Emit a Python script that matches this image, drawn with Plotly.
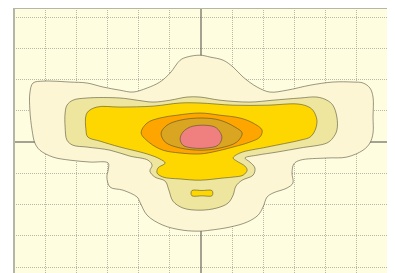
import plotly.graph_objects as go

# Contour levels (outer -> inner), boundaries (data units)
level1_x = [-0.03, 0.29, 0.71, 1.03, 1.35, 1.80, 2.21, 2.76, 3.50, 4.23, 4.88, 5.20, 5.42, 5.52, 5.52, 5.52, 5.42, 5.20, 4.68, 4.04, 3.18, 2.98, 2.92, 2.95, 2.76, 2.31, 2.12, 1.99, 1.83, 1.48, 0.93, 0.29, -0.03, -0.58, -1.22, -1.73, -1.96, -2.05, -2.50, -2.92, -3.02, -2.98, -2.98, -3.56, -4.20, -4.75, -5.17, -5.33, -5.42, -5.49, -5.49, -5.39, -5.07, -4.75, -4.20, -3.66, -3.14, -2.60, -2.18, -1.73, -1.32, -0.99, -0.67, -0.45, -0.03]
level1_y = [2.78, 2.72, 2.62, 2.40, 2.08, 1.76, 1.60, 1.66, 1.82, 1.92, 1.92, 1.89, 1.73, 1.44, 0.80, 0.29, -0.03, -0.26, -0.48, -0.51, -0.58, -0.70, -0.99, -1.31, -1.47, -1.63, -1.76, -2.08, -2.34, -2.56, -2.72, -2.82, -2.85, -2.82, -2.66, -2.34, -1.92, -1.76, -1.54, -1.44, -1.12, -0.90, -0.67, -0.64, -0.58, -0.48, -0.26, -0.03, 0.38, 1.02, 1.57, 1.89, 1.95, 1.95, 1.92, 1.89, 1.76, 1.66, 1.60, 1.73, 1.92, 2.21, 2.62, 2.72, 2.78]

level2_x = [-0.03, 0.61, 1.57, 2.31, 3.18, 3.72, 4.04, 4.23, 4.36, 4.36, 4.23, 4.04, 3.18, 2.44, 1.80, 1.41, 1.57, 1.73, 1.67, 1.32, 1.12, 1.03, 0.87, 0.51, -0.03, -0.58, -0.90, -1.03, -1.15, -1.48, -1.64, -1.57, -1.70, -2.28, -2.92, -3.66, -4.11, -4.30, -4.36, -4.36, -4.30, -4.11, -3.66, -2.60, -2.05, -1.54, -0.99, -0.45, -0.03]
level2_y = [1.44, 1.34, 1.28, 1.34, 1.41, 1.44, 1.34, 1.18, 0.80, 0.38, 0.13, -0.03, -0.19, -0.32, -0.42, -0.51, -0.64, -0.83, -1.06, -1.22, -1.41, -1.70, -1.95, -2.11, -2.18, -2.11, -1.89, -1.54, -1.25, -1.12, -0.93, -0.74, -0.58, -0.45, -0.26, -0.16, -0.10, 0.06, 0.48, 0.93, 1.18, 1.34, 1.41, 1.41, 1.34, 1.28, 1.34, 1.44, 1.44]

level3_x = [-0.03, 1.03, 2.12, 3.08, 3.40, 3.59, 3.72, 3.66, 3.50, 3.18, 2.12, 1.25, 1.03, 1.15, 1.41, 1.48, 1.35, 1.03, 0.71, -0.03, -0.67, -1.22, -1.41, -1.38, -1.15, -1.32, -1.73, -2.60, -3.24, -3.63, -3.69, -3.66, -3.34, -2.60, -1.54, -0.67, -0.03]
level3_y = [1.25, 1.18, 1.18, 1.22, 1.15, 1.02, 0.70, 0.38, 0.16, 0.06, -0.16, -0.35, -0.51, -0.61, -0.77, -0.90, -1.06, -1.12, -1.15, -1.22, -1.18, -1.12, -0.99, -0.83, -0.67, -0.54, -0.38, -0.16, 0.03, 0.16, 0.38, 0.93, 1.12, 1.12, 1.15, 1.25, 1.25]

island_x = [0.03, 0.35, 0.38, 0.35, 0.03, -0.29, -0.32, -0.29, 0.03]
island_y = [-1.55, -1.55, -1.63, -1.72, -1.72, -1.72, -1.63, -1.55, -1.55]

level4_x = [-0.03, 0.61, 1.25, 1.67, 1.96, 1.89, 1.57, 1.03, 0.51, -0.03, -0.67, -1.22, -1.64, -1.92, -1.73, -1.32, -0.77, -0.03]
level4_y = [0.93, 0.86, 0.77, 0.61, 0.38, 0.16, 0.00, -0.16, -0.29, -0.38, -0.35, -0.26, -0.03, 0.29, 0.61, 0.77, 0.86, 0.93]

level5_x = [0.03, 0.61, 1.09, 1.32, 1.15, 0.61, 0.03, -0.67, -1.15, -1.28, -1.09, -0.67, 0.03]
level5_y = [0.77, 0.70, 0.48, 0.29, 0.00, -0.19, -0.26, -0.19, 0.00, 0.29, 0.54, 0.70, 0.77]

level6_x = [0.03, 0.45, 0.61, 0.67, 0.55, 0.19, -0.26, -0.58, -0.67, -0.58, -0.35, 0.03]
level6_y = [0.54, 0.48, 0.32, 0.13, -0.10, -0.19, -0.19, -0.10, 0.10, 0.32, 0.48, 0.54]

levels = [
    (level1_x, level1_y, "#FDF6D4"),
    (level2_x, level2_y, "#EEE59E"),
    (level3_x, level3_y, "#FFD700"),
    (island_x, island_y, "#FFD700"),
    (level4_x, level4_y, "#FFA500"),
    (level5_x, level5_y, "#DAA520"),
    (level6_x, level6_y, "#F08080"),
]

fig = go.Figure()
for xs, ys, col in levels:
    fig.add_trace(go.Scatter(
        x=xs, y=ys, mode="lines", fill="toself", fillcolor=col,
        line=dict(color="rgba(70,70,50,0.55)", width=1, shape="spline", smoothing=1.0),
        hoverinfo="skip", showlegend=False,
    ))

axis_common = dict(
    showticklabels=False, ticks="", dtick=1, showgrid=True,
    gridcolor="rgba(140,140,130,0.6)", griddash="1px,1px", gridwidth=1,
    zeroline=True, zerolinecolor="rgba(90,90,80,0.55)", zerolinewidth=2,
    showline=False, layer="above traces", fixedrange=True,
)

# page body has an 8px margin, so the figure is sized to end at the window edge
fig.update_layout(
    width=387, height=265,
    margin=dict(l=6, r=7, t=0, b=0),
    paper_bgcolor="white", plot_bgcolor="#FFFDE0",
    xaxis=dict(range=[-6, 6], tick0=0, **axis_common),
    yaxis=dict(range=[-4.19, 4.29], tick0=0, **axis_common),
    shapes=[
        dict(type="line", xref="paper", yref="paper", x0=0, x1=0, y0=0, y1=1,
             line=dict(color="#B5B5A8", width=2)),
        dict(type="line", xref="paper", yref="paper", x0=0, x1=1, y0=1, y1=1,
             line=dict(color="#B5B5A8", width=2)),
        dict(type="line", xref="paper", yref="paper", x0=1, x1=1, y0=0, y1=1,
             line=dict(color="#B5B5A8", width=2)),
    ],
)

fig.write_html("out.html")
